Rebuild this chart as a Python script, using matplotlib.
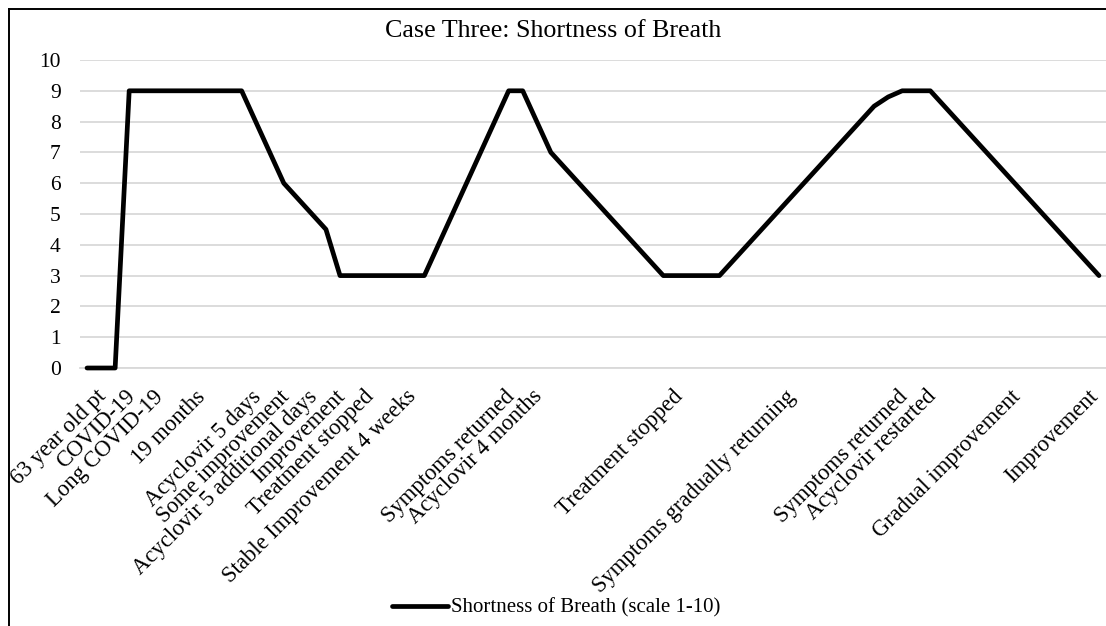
import matplotlib
matplotlib.use("Agg")
import matplotlib.pyplot as plt
from matplotlib.lines import Line2D
import matplotlib.transforms as mtransforms

title = "Case Three: Shortness of Breath"
series_name = "Shortness of Breath (scale 1-10)"

categories = [
    "", "63 year old pt", "", "COVID-19", "", "Long COVID-19", "", "",
    "19 months", "", "", "", "Acyclovir 5 days", "", "Some improvement", "",
    "Acyclovir 5 additional days", "", "Improvement", "", "Treatment stopped", "", "",
    "Stable Improvement 4 weeks", "", "", "", "", "", "",
    "Symptoms returned", "", "Acyclovir 4 months",
    "", "", "", "", "", "", "", "", "",
    "Treatment stopped", "", "", "", "", "", "", "",
    "Symptoms gradually returning", "", "", "", "", "", "", "",
    "Symptoms returned", "", "Acyclovir restarted", "", "", "", "", "",
    "Gradual improvement", "", "", "", "", "",
    "Improvement",
]

values = [
    0, 0, 0, 9, 9, 9, 9, 9, 9, 9, 9, 9,
    8, 7, 6, 5.5, 5, 4.5,
    3, 3, 3, 3, 3, 3, 3,
    4, 5, 6, 7, 8, 9, 9, 8, 7,
    6.5, 6, 5.5, 5, 4.5, 4, 3.5,
    3, 3, 3, 3, 3,
    3.5, 4, 4.5, 5, 5.5, 6, 6.5, 7, 7.5, 8, 8.5, 8.8,
    9, 9, 9,
    8.5, 8, 7.5, 7, 6.5, 6, 5.5, 5, 4.5, 4, 3.5, 3,
]

y_ticks = list(range(0, 11))

plt.rcParams['font.family'] = ['Liberation Serif', 'DejaVu Serif']

W, H = 1106, 626
fig = plt.figure(figsize=(W / 100, H / 100), dpi=100)
fig.patch.set_facecolor("white")

left = 80 / W
right = 1.0
top = 1 - 60 / H
bottom = 1 - 368 / H
ax = fig.add_axes([left, bottom, right - left, top - bottom])

x = list(range(len(categories)))
ax.plot(x, values, color="black", linewidth=3.4, solid_joinstyle="round",
        solid_capstyle="round", label=series_name, zorder=3, clip_on=False)

ax.set_xlim(-0.5, len(categories) - 0.5)
ax.set_ylim(0, 10)
ax.set_yticks(y_ticks)
ax.set_yticklabels([str(v) for v in y_ticks], fontsize=15.5)
ax.grid(axis="y", color="#d9d9d9", linewidth=1.3, zorder=0)
ax.set_axisbelow(True)

ax.set_xticks(x)
ax.set_xticklabels(categories, rotation=45, ha="right", va="top",
                   rotation_mode="anchor", fontsize=16.3)
ax.tick_params(axis="x", length=0, pad=13)
ax.tick_params(axis="y", length=0, pad=14)

xlabels = ax.get_xticklabels()
for i, lbl in enumerate(xlabels):
    dx = -5 if i < len(xlabels) - 1 else -11
    shift = mtransforms.ScaledTranslation(dx / 100, 0, fig.dpi_scale_trans)
    lbl.set_transform(lbl.get_transform() + shift)

for s in ["top", "right", "left"]:
    ax.spines[s].set_visible(False)
ax.spines["bottom"].set_color("#d9d9d9")
ax.spines["bottom"].set_linewidth(1.3)

fig.text(0.5, 1 - 31 / H, title, ha="center", va="center", fontsize=18.7)

fig.legend(loc="center", bbox_to_anchor=(0.503, 1 - 608 / H), frameon=False,
           fontsize=15, handlelength=2.7, handletextpad=0.15)

bx = 9 / W
by = 1 - 9 / H
fig.add_artist(Line2D([bx, bx], [0, by], transform=fig.transFigure,
                      color="black", linewidth=1.4))
fig.add_artist(Line2D([bx, 1.0], [by, by], transform=fig.transFigure,
                      color="black", linewidth=1.4))

fig.savefig("out.png", dpi=100, facecolor="white")
